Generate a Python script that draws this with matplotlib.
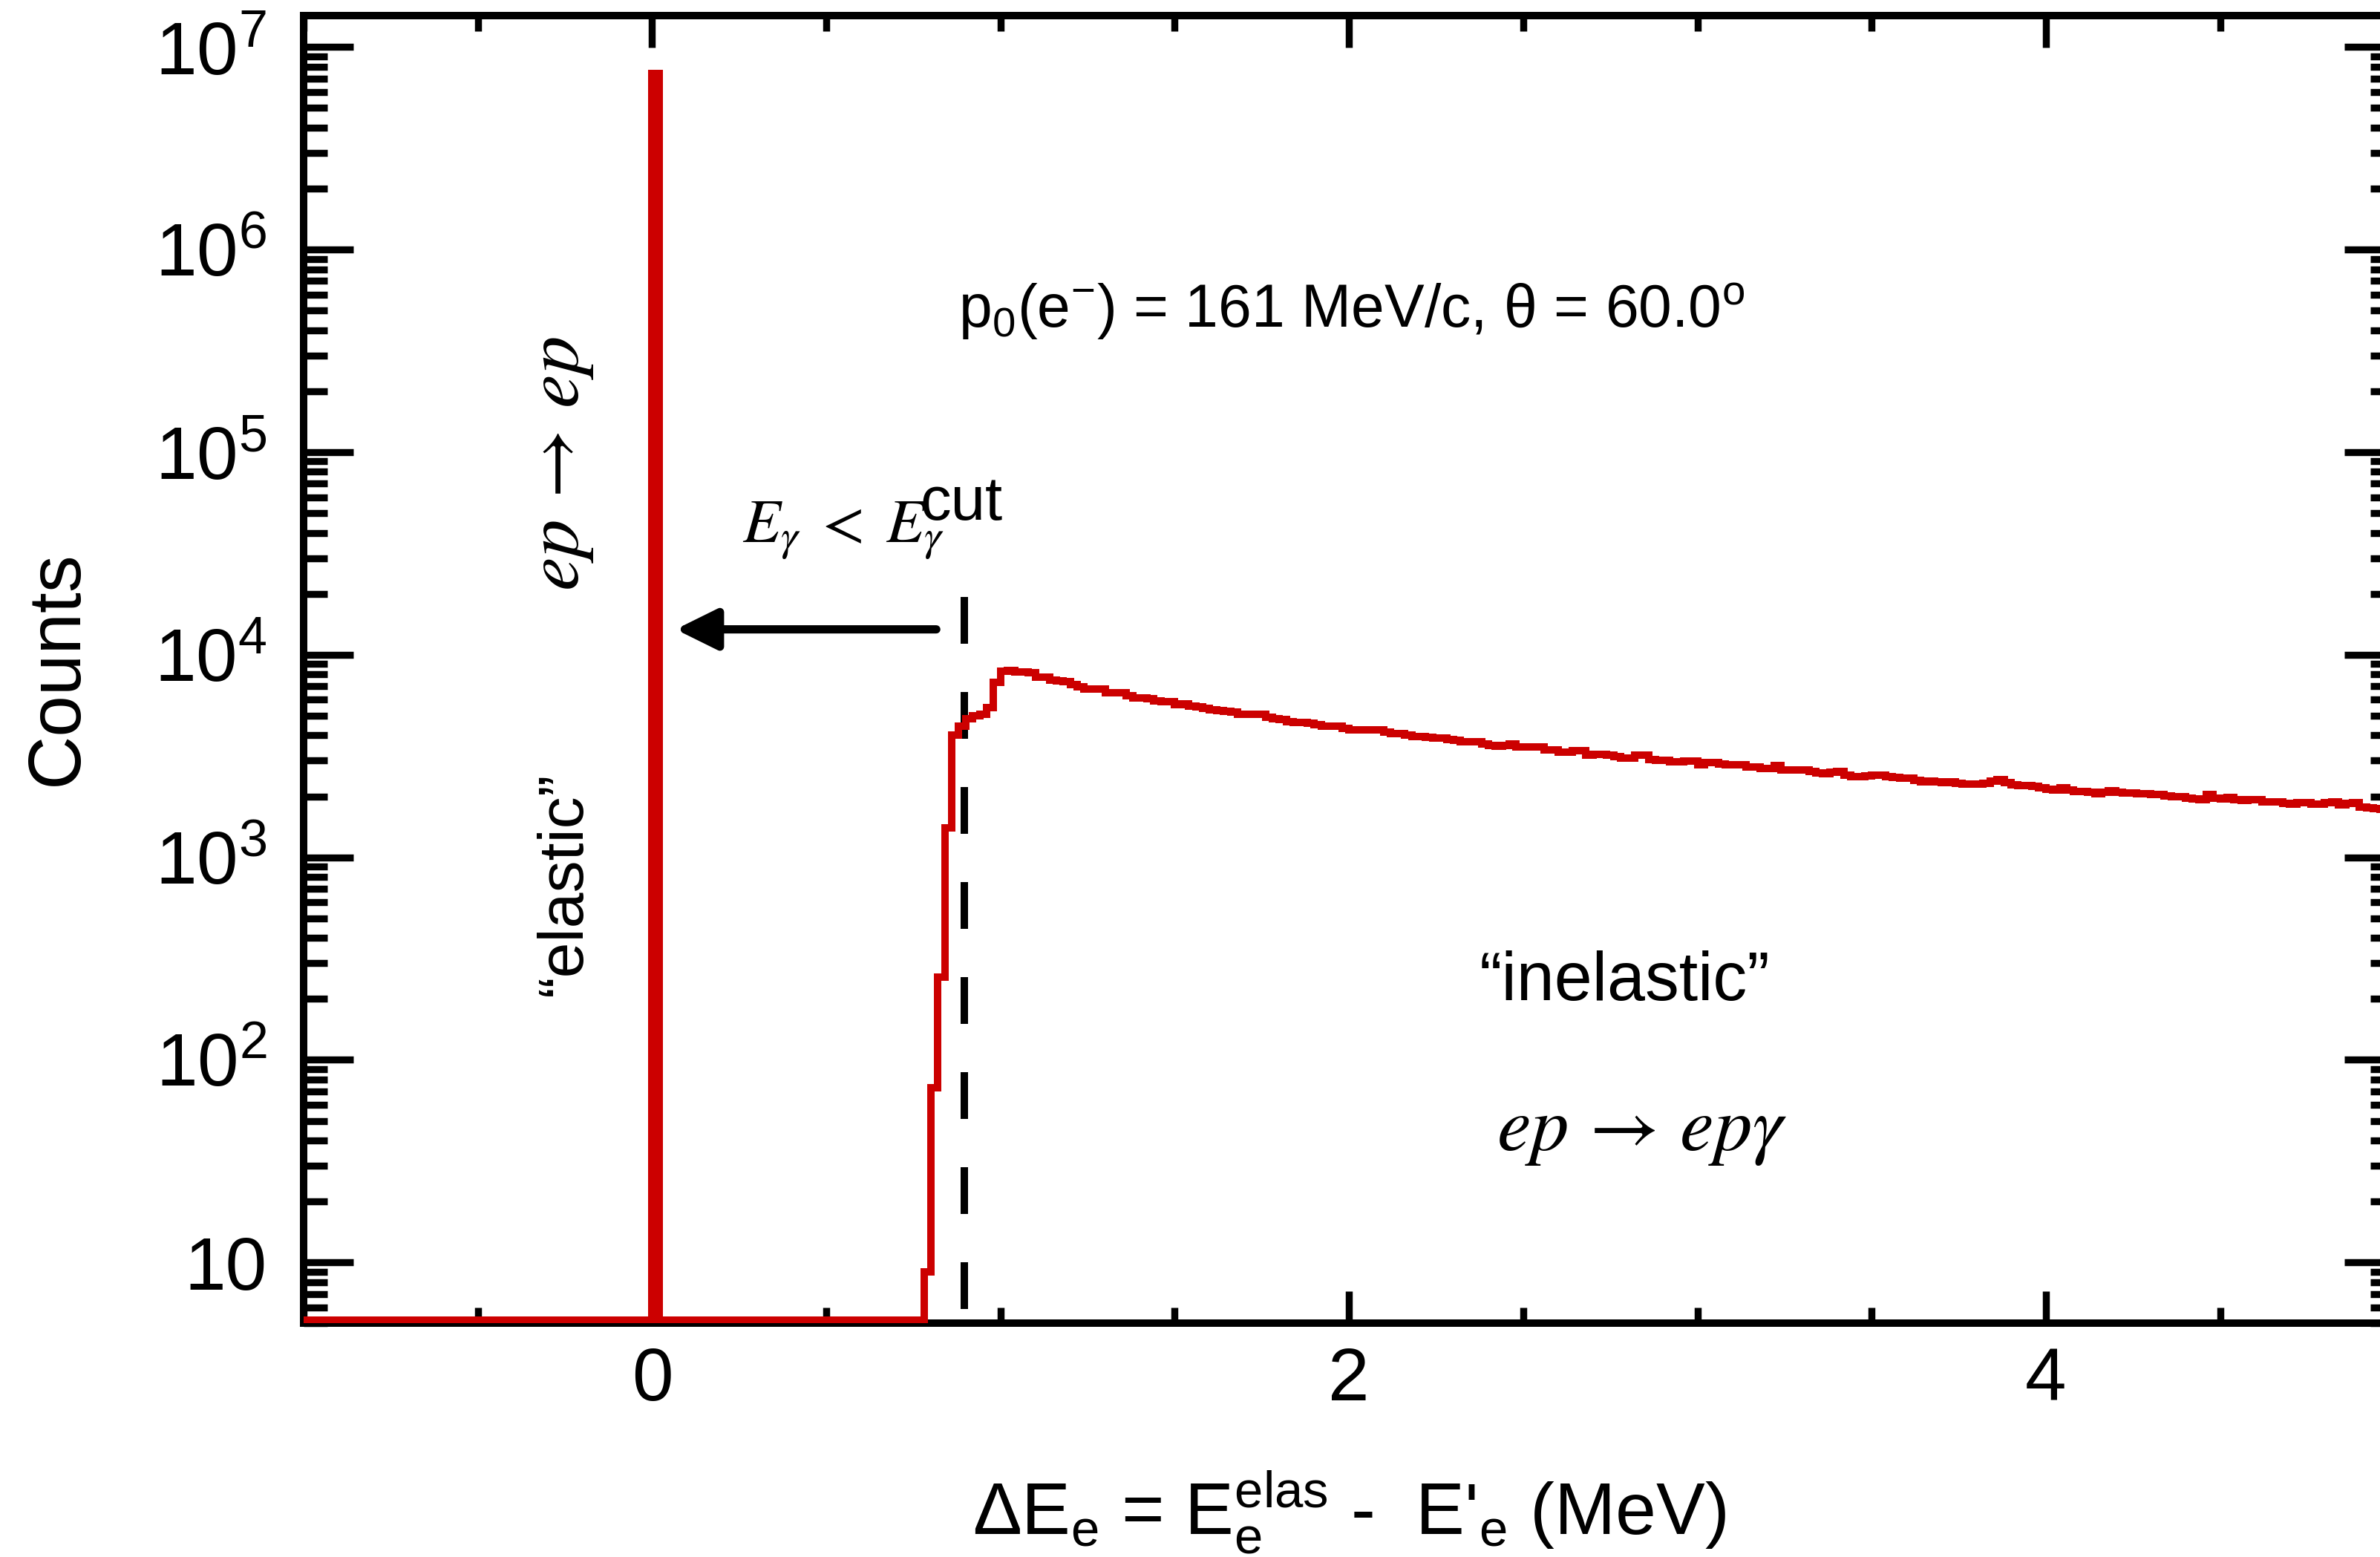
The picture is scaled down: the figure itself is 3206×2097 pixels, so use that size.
import numpy as np
import matplotlib
matplotlib.use('Agg')
import matplotlib.pyplot as plt
from matplotlib.ticker import MultipleLocator, LogLocator, FuncFormatter, NullFormatter

# --- data ---
BIN_WIDTH = 0.02          # MeV
X_MIN, X_MAX = -1.0, 5.0
Y_MIN, Y_MAX = 5.0, 1.43e7

ELASTIC_EDGE = 0.0        # left edge of the elastic bin
ELASTIC_COUNTS = 7.4e6

E_CUT = 0.895             # photon energy cut (dashed line)
CUT_TOP = 1.93e4          # top end of the dashed line

INELASTIC_START = 0.78    # left edge of first filled radiative-tail bin
INELASTIC_COUNTS = [
    9, 73, 257, 1400, 4000, 4450, 4830, 5000, 5100, 5500,
    7300, 8300, 8350, 8250, 8200, 8150, 7750, 7750, 7500, 7450,
    7400, 7150, 6950, 6750, 6770, 6760, 6480, 6490, 6520, 6270,
    6100, 6100, 6070, 5930, 5850, 5850, 5670, 5700, 5560, 5520,
    5450, 5350, 5300, 5250, 5200, 5100, 5070, 5065, 5065, 4900,
    4840, 4780, 4680, 4630, 4630, 4580, 4500, 4460, 4450, 4450,
    4330, 4260, 4255, 4255, 4250, 4250, 4160, 4090, 4090, 4000,
    3960, 3955, 3900, 3890, 3888, 3830, 3780, 3730, 3716, 3716,
    3620, 3560, 3543, 3580, 3614, 3500, 3494, 3494, 3494, 3400,
    3379, 3300, 3294, 3369, 3369, 3194, 3230, 3230, 3194, 3150,
    3100, 3078, 3194, 3194, 3050, 3001, 3001, 2959, 2959, 2985,
    2985, 2862, 2927, 2927, 2886, 2854, 2854, 2854, 2790, 2790,
    2751, 2751, 2830, 2698, 2698, 2698, 2698, 2660, 2600, 2579,
    2640, 2660, 2550, 2501, 2501, 2515, 2540, 2550, 2500, 2480,
    2460, 2452, 2400, 2357, 2370, 2360, 2344, 2360, 2320, 2305,
    2305, 2305, 2320, 2380, 2412, 2330, 2279, 2270, 2253, 2235,
    2205, 2170, 2154, 2210, 2150, 2120, 2106, 2090, 2059, 2100,
    2130, 2100, 2083, 2075, 2065, 2060, 2048, 2035, 2005, 1986,
    1990, 1965, 1935, 1930, 2037, 1960, 1936, 1980, 1920, 1904,
    1930, 1930, 1880, 1880, 1882, 1840, 1830, 1867, 1867, 1825,
    1825, 1860, 1872, 1820, 1840, 1856, 1770, 1760, 1745, 1730, 1730,
]

RED = '#cc0000'
ZERO_LEVEL = 5.2  # empty bins are drawn along the bottom

# fonts
plt.rcParams['font.family'] = ['Liberation Sans', 'DejaVu Sans']
plt.rcParams['mathtext.fontset'] = 'custom'
plt.rcParams['mathtext.rm'] = 'Liberation Sans'
plt.rcParams['mathtext.it'] = 'Liberation Sans:italic'
plt.rcParams['mathtext.bf'] = 'Liberation Sans:bold'
plt.rcParams['mathtext.sf'] = 'Liberation Sans'

fig = plt.figure(figsize=(16.03, 10.485), dpi=200)
ax = fig.add_axes([0.1276, 0.1500, 0.8784, 0.8400])

# histogram
edges = np.round(np.arange(X_MIN, X_MAX + BIN_WIDTH / 2, BIN_WIDTH), 4)
counts = np.zeros(len(edges) - 1)
counts[int(round((ELASTIC_EDGE - X_MIN) / BIN_WIDTH))] = ELASTIC_COUNTS
j0 = int(round((INELASTIC_START - X_MIN) / BIN_WIDTH))
counts[j0:j0 + len(INELASTIC_COUNTS)] = INELASTIC_COUNTS
shown = np.where(counts > 0, counts, ZERO_LEVEL)
ax.stairs(shown, edges, baseline=None, color=RED, lw=3.6, zorder=3,
          joinstyle='miter')

# cut line
ax.plot([E_CUT, E_CUT], [CUT_TOP, Y_MIN], color='k', lw=3.6,
        dashes=(6.3, 6.5), zorder=2.6)

ax.set_yscale('log')
ax.set_xlim(X_MIN, X_MAX)
ax.set_ylim(Y_MIN, Y_MAX)

# axes styling
for sp in ax.spines.values():
    sp.set_linewidth(3.6)

ax.xaxis.set_major_locator(MultipleLocator(2))
ax.xaxis.set_minor_locator(MultipleLocator(0.5))
ax.yaxis.set_major_locator(LogLocator(base=10, numticks=20))
ax.yaxis.set_minor_locator(LogLocator(base=10, subs=np.arange(2, 10), numticks=20))
ax.yaxis.set_minor_formatter(NullFormatter())
ax.yaxis.set_major_formatter(FuncFormatter(
    lambda v, p: '10' if abs(v - 10) < 1e-6 else r'10$^{%d}$' % round(np.log10(v))))

ax.tick_params(which='both', direction='in', top=True, right=True,
               width=3.4, colors='k', labelsize=36)
ax.tick_params(axis='y', which='major', length=24, pad=18)
ax.tick_params(axis='y', which='minor', length=11.5)
ax.tick_params(axis='x', which='major', length=15.5, pad=11)
ax.tick_params(axis='x', which='minor', length=7.5)

# axis titles
fig.text(0.0243, 0.5708, 'Counts', rotation=90, ha='center', va='center', fontsize=36)
fig.text(0.5668, 0.0143,
         r"$\Delta$E$_{\rm e}$ = E$_{\rm e}^{\rm elas}$ -  E'$_{\rm e}$ (MeV)",
         ha='center', va='baseline', fontsize=35.5)

# annotations (axes-fraction positions)
tr = ax.transAxes
ax.text(0.3132, 0.7614, r'p$_{\rm 0}$(e$^{-}$) = 161 MeV/c, θ = 60.0$^{\rm o}$',
        transform=tr, ha='left', va='baseline', fontsize=29)
ax.text(0.2099, 0.5970, r'$E_\gamma\;<\;E_\gamma$', transform=tr, ha='left',
        va='baseline', fontsize=30, math_fontfamily='stix')
ax.text(0.2950, 0.6146, 'cut', transform=tr, ha='left', va='baseline', fontsize=30)
ax.annotate('', xy=(0.1779, 0.5307), xytext=(0.3026, 0.5307),
            xycoords='axes fraction', textcoords='axes fraction',
            arrowprops=dict(arrowstyle='-|>,head_length=0.85,head_width=0.42',
                            color='k', lw=4, mutation_scale=20,
                            shrinkA=0, shrinkB=0))
ax.text(0.1222, 0.6575, r'$ep\,\rightarrow\,ep$', transform=tr, rotation=90,
        ha='center', va='center', fontsize=37, math_fontfamily='stix')
ax.text(0.1250, 0.3360, '“elastic”', transform=tr, rotation=90, ha='center',
        va='center', fontsize=31)
ax.text(0.6317, 0.2611, '“inelastic”', transform=tr, ha='center', va='center',
        fontsize=33)
ax.text(0.6400, 0.1468, r'$ep\,\rightarrow\,ep\gamma$', transform=tr, ha='center',
        va='center', fontsize=37, math_fontfamily='stix')

fig.savefig('out.png', dpi=200)
